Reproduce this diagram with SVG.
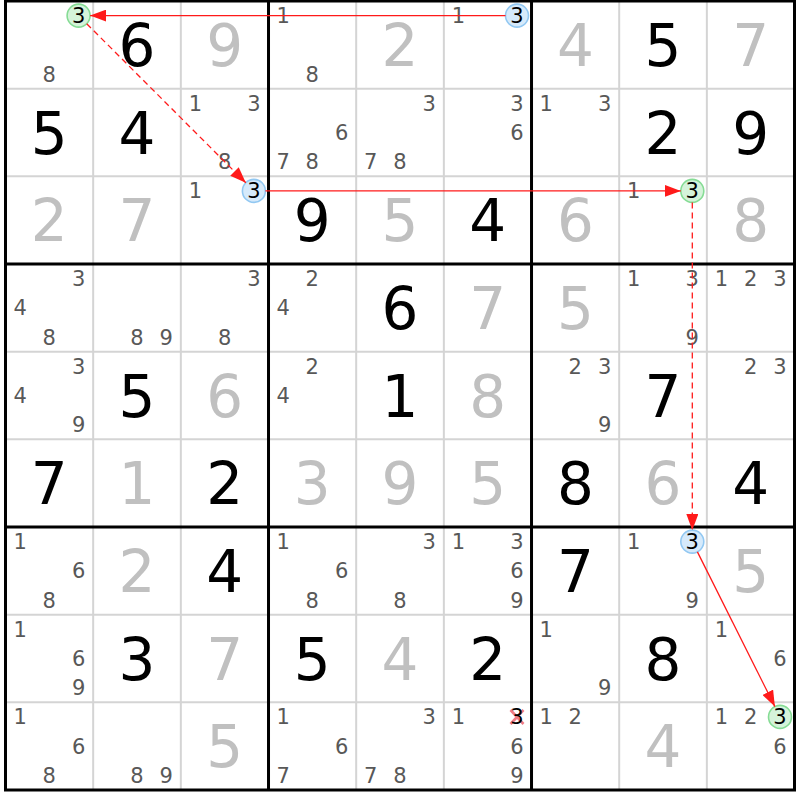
<svg xmlns="http://www.w3.org/2000/svg" width="800" height="800" viewBox="0 0 800 800">
<style>
text{font-family:"DejaVu Sans","Liberation Sans",sans-serif;text-anchor:middle}
.g{font-size:58px;fill:#c0c0c0}
.s{font-size:58px;fill:#000}
.c{font-size:21px;fill:#585858}
.k{font-size:21px;fill:#000}
.thin{stroke:#d4d4d4;stroke-width:2}
.thick{stroke:#000;stroke-width:3}
.cg{fill:#d5f3da;stroke:#86dc95;stroke-width:1.6}
.cbl{fill:#d6eafb;stroke:#92c8f2;stroke-width:1.6}
.ln{stroke:#ff1a1a;stroke-width:1.3;fill:none}
.dash{stroke-dasharray:6 4}
</style>
<defs>
<marker id="ah" markerUnits="userSpaceOnUse" markerWidth="16" markerHeight="12" refX="16" refY="6" orient="auto">
<path d="M0,0 L16,6 L0,12 z" fill="#ff1a1a"/>
</marker>
</defs>
<rect x="0" y="0" width="800" height="800" fill="#fff"/>
<g id="grid">
<g class="thin">
<line x1="93.17" y1="1" x2="93.17" y2="790"/><line x1="180.84" y1="1" x2="180.84" y2="790"/>
<line x1="356.18" y1="1" x2="356.18" y2="790"/><line x1="443.85" y1="1" x2="443.85" y2="790"/>
<line x1="619.19" y1="1" x2="619.19" y2="790"/><line x1="706.86" y1="1" x2="706.86" y2="790"/>
<line x1="5.5" y1="88.67" x2="794.5" y2="88.67"/><line x1="5.5" y1="176.34" x2="794.5" y2="176.34"/>
<line x1="5.5" y1="351.68" x2="794.5" y2="351.68"/><line x1="5.5" y1="439.35" x2="794.5" y2="439.35"/>
<line x1="5.5" y1="614.69" x2="794.5" y2="614.69"/><line x1="5.5" y1="702.36" x2="794.5" y2="702.36"/>
</g>
<g class="thick">
<line x1="268.51" y1="1" x2="268.51" y2="790"/><line x1="531.52" y1="1" x2="531.52" y2="790"/>
<line x1="5.5" y1="264.01" x2="794.5" y2="264.01"/><line x1="5.5" y1="527.02" x2="794.5" y2="527.02"/>
<rect x="5.5" y="1" width="789" height="789" fill="none"/>
</g>
</g>

<!-- Row 1 -->
<g id="r1c1"><circle class="cg" cx="78.6" cy="15.6" r="11.5"/><text class="k" x="78.6" y="23.1">3</text><text class="c" x="49.3" y="81.6">8</text></g>
<g id="r1c2"><text class="s" x="137" y="65.8">6</text></g>
<g id="r1c3"><text class="g" x="224.7" y="65.8">9</text></g>
<g id="r1c4"><text class="c" x="283.1" y="23.1">1</text><text class="c" x="312.3" y="81.6">8</text></g>
<g id="r1c5"><text class="g" x="400" y="65.8">2</text></g>
<g id="r1c6"><text class="c" x="458.5" y="23.1">1</text><circle class="cbl" cx="517" cy="15.6" r="11.5"/><text class="k" x="517" y="23.1">3</text></g>
<g id="r1c7"><text class="g" x="575.4" y="65.8">4</text></g>
<g id="r1c8"><text class="s" x="663" y="65.8">5</text></g>
<g id="r1c9"><text class="g" x="750.7" y="65.8">7</text></g>

<!-- Row 2 -->
<g id="r2c1"><text class="s" x="49.3" y="153.5">5</text></g>
<g id="r2c2"><text class="s" x="137" y="153.5">4</text></g>
<g id="r2c3"><text class="c" x="195.4" y="110.8">1</text><text class="c" x="253.9" y="110.8">3</text><text class="c" x="224.6" y="169.3">8</text></g>
<g id="r2c4"><text class="c" x="341.6" y="140">6</text><text class="c" x="283.1" y="169.3">7</text><text class="c" x="312.3" y="169.3">8</text></g>
<g id="r2c5"><text class="c" x="429.3" y="110.8">3</text><text class="c" x="370.8" y="169.3">7</text><text class="c" x="400" y="169.3">8</text></g>
<g id="r2c6"><text class="c" x="517" y="110.8">3</text><text class="c" x="517" y="140">6</text></g>
<g id="r2c7"><text class="c" x="546.1" y="110.8">1</text><text class="c" x="604.6" y="110.8">3</text></g>
<g id="r2c8"><text class="s" x="663" y="153.5">2</text></g>
<g id="r2c9"><text class="s" x="750.7" y="153.5">9</text></g>

<!-- Row 3 -->
<g id="r3c1"><text class="g" x="49.3" y="241.2">2</text></g>
<g id="r3c2"><text class="g" x="137" y="241.2">7</text></g>
<g id="r3c3"><text class="c" x="195.4" y="198.4">1</text><circle class="cbl" cx="253.9" cy="190.9" r="11.5"/><text class="k" x="253.9" y="198.4">3</text></g>
<g id="r3c4"><text class="s" x="312.3" y="241.2">9</text></g>
<g id="r3c5"><text class="g" x="400" y="241.2">5</text></g>
<g id="r3c6"><text class="s" x="487.7" y="241.2">4</text></g>
<g id="r3c7"><text class="g" x="575.4" y="241.2">6</text></g>
<g id="r3c8"><text class="c" x="633.8" y="198.4">1</text><circle class="cg" cx="692.3" cy="190.9" r="11.5"/><text class="k" x="692.3" y="198.4">3</text></g>
<g id="r3c9"><text class="g" x="750.7" y="241.2">8</text></g>

<!-- Row 4 -->
<g id="r4c1"><text class="c" x="78.6" y="286.1">3</text><text class="c" x="20.1" y="315.3">4</text><text class="c" x="49.3" y="344.6">8</text></g>
<g id="r4c2"><text class="c" x="137" y="344.6">8</text><text class="c" x="166.3" y="344.6">9</text></g>
<g id="r4c3"><text class="c" x="253.9" y="286.1">3</text><text class="c" x="224.6" y="344.6">8</text></g>
<g id="r4c4"><text class="c" x="312.3" y="286.1">2</text><text class="c" x="283.1" y="315.3">4</text></g>
<g id="r4c5"><text class="s" x="400" y="328.8">6</text></g>
<g id="r4c6"><text class="g" x="487.7" y="328.8">7</text></g>
<g id="r4c7"><text class="g" x="575.4" y="328.8">5</text></g>
<g id="r4c8"><text class="c" x="633.8" y="286.1">1</text><text class="c" x="692.3" y="286.1">3</text><text class="c" x="692.3" y="344.6">9</text></g>
<g id="r4c9"><text class="c" x="721.5" y="286.1">1</text><text class="c" x="750.7" y="286.1">2</text><text class="c" x="780" y="286.1">3</text></g>

<!-- Row 5 -->
<g id="r5c1"><text class="c" x="78.6" y="373.8">3</text><text class="c" x="20.1" y="403">4</text><text class="c" x="78.6" y="432.3">9</text></g>
<g id="r5c2"><text class="s" x="137" y="416.5">5</text></g>
<g id="r5c3"><text class="g" x="224.7" y="416.5">6</text></g>
<g id="r5c4"><text class="c" x="312.3" y="373.8">2</text><text class="c" x="283.1" y="403">4</text></g>
<g id="r5c5"><text class="s" x="400" y="416.5">1</text></g>
<g id="r5c6"><text class="g" x="487.7" y="416.5">8</text></g>
<g id="r5c7"><text class="c" x="575.3" y="373.8">2</text><text class="c" x="604.6" y="373.8">3</text><text class="c" x="604.6" y="432.3">9</text></g>
<g id="r5c8"><text class="s" x="663" y="416.5">7</text></g>
<g id="r5c9"><text class="c" x="750.7" y="373.8">2</text><text class="c" x="780" y="373.8">3</text></g>

<!-- Row 6 -->
<g id="r6c1"><text class="s" x="49.3" y="504.2">7</text></g>
<g id="r6c2"><text class="g" x="137" y="504.2">1</text></g>
<g id="r6c3"><text class="s" x="224.7" y="504.2">2</text></g>
<g id="r6c4"><text class="g" x="312.3" y="504.2">3</text></g>
<g id="r6c5"><text class="g" x="400" y="504.2">9</text></g>
<g id="r6c6"><text class="g" x="487.7" y="504.2">5</text></g>
<g id="r6c7"><text class="s" x="575.4" y="504.2">8</text></g>
<g id="r6c8"><text class="g" x="663" y="504.2">6</text></g>
<g id="r6c9"><text class="s" x="750.7" y="504.2">4</text></g>

<!-- Row 7 -->
<g id="r7c1"><text class="c" x="20.1" y="549.1">1</text><text class="c" x="78.6" y="578.3">6</text><text class="c" x="49.3" y="607.6">8</text></g>
<g id="r7c2"><text class="g" x="137" y="591.9">2</text></g>
<g id="r7c3"><text class="s" x="224.7" y="591.9">4</text></g>
<g id="r7c4"><text class="c" x="283.1" y="549.1">1</text><text class="c" x="341.6" y="578.3">6</text><text class="c" x="312.3" y="607.6">8</text></g>
<g id="r7c5"><text class="c" x="429.3" y="549.1">3</text><text class="c" x="400" y="607.6">8</text></g>
<g id="r7c6"><text class="c" x="458.5" y="549.1">1</text><text class="c" x="517" y="549.1">3</text><text class="c" x="517" y="578.3">6</text><text class="c" x="517" y="607.6">9</text></g>
<g id="r7c7"><text class="s" x="575.4" y="591.9">7</text></g>
<g id="r7c8"><text class="c" x="633.8" y="549.1">1</text><circle class="cbl" cx="692.3" cy="541.6" r="11.5"/><text class="k" x="692.3" y="549.1">3</text><text class="c" x="692.3" y="607.6">9</text></g>
<g id="r7c9"><text class="g" x="750.7" y="591.9">5</text></g>

<!-- Row 8 -->
<g id="r8c1"><text class="c" x="20.1" y="636.8">1</text><text class="c" x="78.6" y="666">6</text><text class="c" x="78.6" y="695.3">9</text></g>
<g id="r8c2"><text class="s" x="137" y="679.5">3</text></g>
<g id="r8c3"><text class="g" x="224.7" y="679.5">7</text></g>
<g id="r8c4"><text class="s" x="312.3" y="679.5">5</text></g>
<g id="r8c5"><text class="g" x="400" y="679.5">4</text></g>
<g id="r8c6"><text class="s" x="487.7" y="679.5">2</text></g>
<g id="r8c7"><text class="c" x="546.1" y="636.8">1</text><text class="c" x="604.6" y="695.3">9</text></g>
<g id="r8c8"><text class="s" x="663" y="679.5">8</text></g>
<g id="r8c9"><text class="c" x="721.5" y="636.8">1</text><text class="c" x="780" y="666">6</text></g>

<!-- Row 9 -->
<g id="r9c1"><text class="c" x="20.1" y="724.4">1</text><text class="c" x="78.6" y="753.6">6</text><text class="c" x="49.3" y="782.9">8</text></g>
<g id="r9c2"><text class="c" x="137" y="782.9">8</text><text class="c" x="166.3" y="782.9">9</text></g>
<g id="r9c3"><text class="g" x="224.7" y="767.2">5</text></g>
<g id="r9c4"><text class="c" x="283.1" y="724.4">1</text><text class="c" x="341.6" y="753.6">6</text><text class="c" x="283.1" y="782.9">7</text></g>
<g id="r9c5"><text class="c" x="429.3" y="724.4">3</text><text class="c" x="370.8" y="782.9">7</text><text class="c" x="400" y="782.9">8</text></g>
<g id="r9c6"><text class="c" x="458.5" y="724.4">1</text><path d="M510.5,710 L523.5,724 M523.5,710 L510.5,724" stroke="#f07a84" stroke-width="2.6" fill="none"/><text class="k" x="517" y="724.4">3</text><text class="c" x="517" y="753.6">6</text><text class="c" x="517" y="782.9">9</text></g>
<g id="r9c7"><text class="c" x="546.1" y="724.4">1</text><text class="c" x="575.3" y="724.4">2</text></g>
<g id="r9c8"><text class="g" x="663" y="767.2">4</text></g>
<g id="r9c9"><text class="c" x="721.5" y="724.4">1</text><text class="c" x="750.7" y="724.4">2</text><circle class="cg" cx="780" cy="716.9" r="11.5"/><text class="k" x="780" y="724.4">3</text><text class="c" x="780" y="753.6">6</text></g>

<g id="links">
<line class="ln" x1="505.5" y1="15.6" x2="90.1" y2="15.6" marker-end="url(#ah)"/>
<line class="ln dash" x1="86.7" y1="23.7" x2="245.8" y2="182.8" marker-end="url(#ah)"/>
<line class="ln" x1="265.4" y1="190.9" x2="680.8" y2="190.9" marker-end="url(#ah)"/>
<line class="ln dash" x1="692.3" y1="202.4" x2="692.3" y2="530.1" marker-end="url(#ah)"/>
<line class="ln" x1="697.4" y1="551.9" x2="774.9" y2="706.6" marker-end="url(#ah)"/>
</g>
</svg>
